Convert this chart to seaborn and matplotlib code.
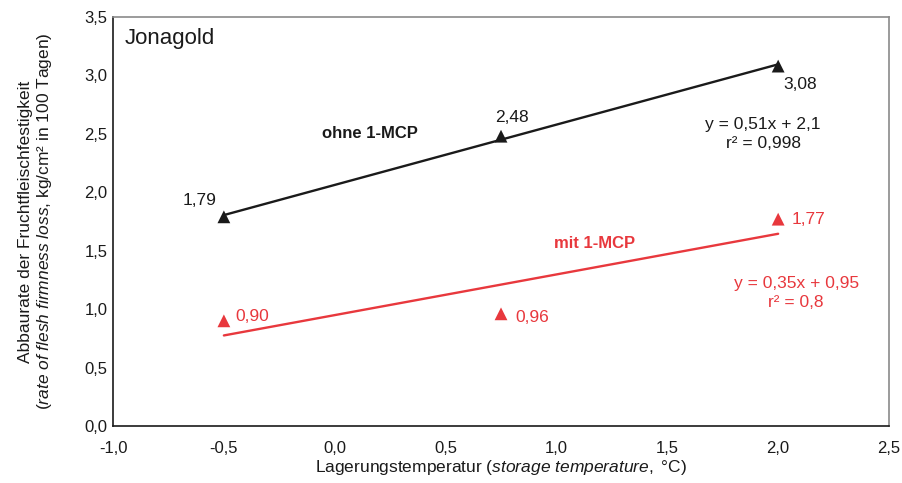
import numpy as np
import pandas as pd
import matplotlib
matplotlib.use("Agg")
import matplotlib.pyplot as plt
import seaborn as sns

# Data
temps = [-0.5, 0.75, 2.0]
ohne_mcp = [1.79, 2.48, 3.08]
mit_mcp = [0.90, 0.96, 1.77]
ohne_labels = ["1,79", "2,48", "3,08"]
mit_labels = ["0,90", "0,96", "1,77"]
x_ticks = [-1.0, -0.5, 0.0, 0.5, 1.0, 1.5, 2.0, 2.5]
y_ticks = [0.0, 0.5, 1.0, 1.5, 2.0, 2.5, 3.0, 3.5]

black = "#1a1a1a"
red = "#e8383d"

sns.set_style("white")
plt.rcParams["font.family"] = ["Liberation Sans", "DejaVu Sans"]
plt.rcParams["mathtext.fontset"] = "custom"
plt.rcParams["mathtext.rm"] = "Liberation Sans"
plt.rcParams["mathtext.it"] = "Liberation Sans:italic"

df = pd.DataFrame({"temp": temps, "ohne": ohne_mcp, "mit": mit_mcp})

fig = plt.figure(figsize=(9.02, 4.83), dpi=100)
ax = fig.add_axes([0.1253, 0.118, 0.8603, 0.8468])

# linear fits
fit_x = np.array([temps[0], temps[-1]])
k1, d1 = np.polyfit(temps, ohne_mcp, 1)
k2, d2 = np.polyfit(temps, mit_mcp, 1)
sns.lineplot(x=fit_x, y=k1 * fit_x + d1, color=black, lw=1.7, ax=ax)
sns.lineplot(x=fit_x, y=k2 * fit_x + d2, color=red, lw=1.7, ax=ax)

sns.scatterplot(data=df, x="temp", y="ohne", marker="^", s=85, color=black,
                edgecolor="none", ax=ax, zorder=3)
sns.scatterplot(data=df, x="temp", y="mit", marker="^", s=85, color=red,
                edgecolor="none", ax=ax, zorder=3)

# value labels
fs = 12.5
ax.annotate(ohne_labels[0], (temps[0], ohne_mcp[0]), xytext=(-5, 6), textcoords="offset points",
            ha="right", va="bottom", fontsize=fs, color=black)
ax.annotate(ohne_labels[1], (temps[1], ohne_mcp[1]), xytext=(8, 8), textcoords="offset points",
            ha="center", va="bottom", fontsize=fs, color=black)
ax.annotate(ohne_labels[2], (temps[2], ohne_mcp[2]), xytext=(4, -8), textcoords="offset points",
            ha="left", va="top", fontsize=fs, color=black)
mit_offsets = [(8, 3), (10, -3), (10, 0)]
for x, y, lab, off in zip(temps, mit_mcp, mit_labels, mit_offsets):
    ax.annotate(lab, (x, y), xytext=off, textcoords="offset points",
                ha="left", va="center", fontsize=fs, color=red)

ax.text(0.0155, 0.972, "Jonagold", transform=ax.transAxes, fontsize=16, color=black,
        ha="left", va="top")
ax.text(0.159, 2.50, "ohne 1-MCP", fontsize=12, fontweight="bold", color=black, ha="center", va="center")
ax.text(1.174, 1.56, "mit 1-MCP", fontsize=12, fontweight="bold", color=red, ha="center", va="center")
ax.text(1.932, 2.50, "y = 0,51x + 2,1\nr² = 0,998", fontsize=12.5, color=black,
        ha="center", va="center", linespacing=1.3)
ax.text(2.081, 1.14, "y = 0,35x + 0,95\nr² = 0,8", fontsize=12.5, color=red,
        ha="center", va="center", linespacing=1.3)

ax.set_xlim(-1.0, 2.5)
ax.set_ylim(0.0, 3.5)
ax.set_xticks(x_ticks)
ax.set_yticks(y_ticks)
ax.set_xticklabels([f"{v:.1f}".replace(".", ",") for v in x_ticks], fontsize=12, color=black)
ax.set_yticklabels([f"{v:.1f}".replace(".", ",") for v in y_ticks], fontsize=12, color=black)
ax.tick_params(direction="in", length=4, width=0.8, color="#b0b0b0")
ax.tick_params(axis="x", pad=11)
ax.tick_params(axis="y", pad=4)

ax.set_xlabel("Lagerungstemperatur ($\\it{storage\\ temperature,}$ °C)", fontsize=12.5, color=black, labelpad=1)
ax.set_ylabel("Abbaurate der Fruchtfleischfestigkeit\n($\\it{rate\\ of\\ flesh\\ firmness\\ loss}$, kg/cm² in 100 Tagen)",
              fontsize=12.5, color=black, labelpad=22, linespacing=1.15)

for side in ["left", "bottom"]:
    ax.spines[side].set_color(black)
    ax.spines[side].set_linewidth(1.2)
for side in ["top", "right"]:
    ax.spines[side].set_color("#8a8a8a")
    ax.spines[side].set_linewidth(1.2)
ax.set_facecolor("white")

fig.savefig("out.png", dpi=100, facecolor="white")
